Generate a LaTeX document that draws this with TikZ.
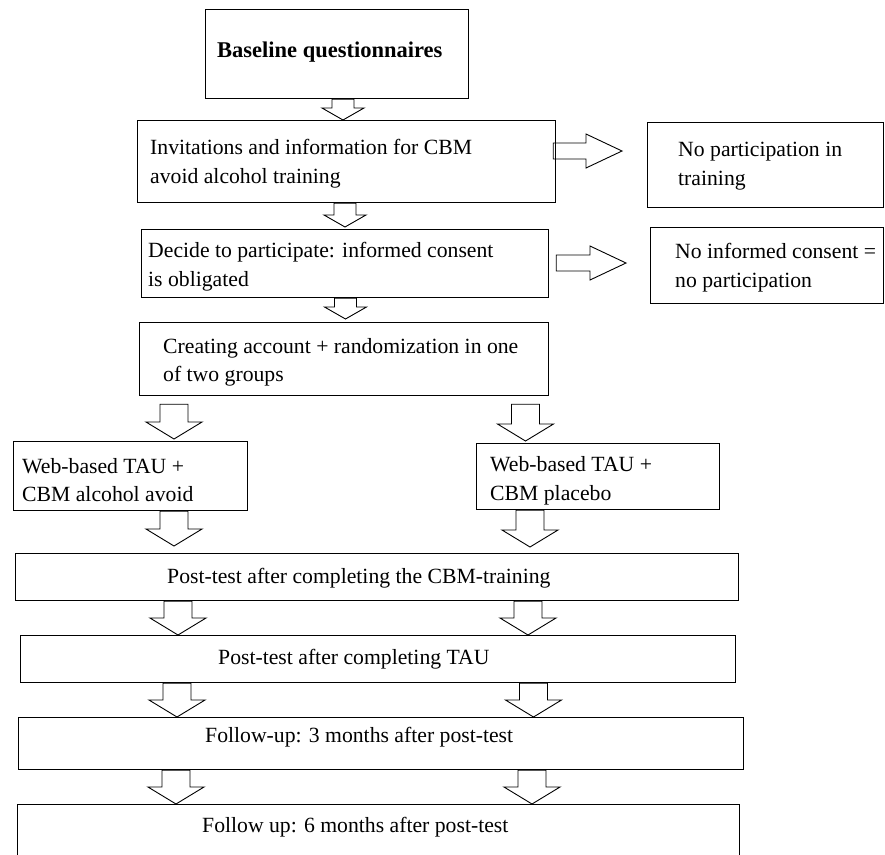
\documentclass[tikz,border=0pt]{standalone}
\usepackage{fontspec}
\setmainfont{Liberation Serif}
\usetikzlibrary{calc}
\tikzset{flowpx/.style={x=1pt,y=-1pt,font=\fontsize{21.7pt}{28.5pt}\selectfont}}
\tikzset{stepbox/.style={draw=black,line width=1.2pt,anchor=north west,inner sep=0pt},
         steptext/.style={anchor=west,align=left,inner sep=0pt},
         blockarr/.style={draw=black,line width=0.9pt}}
% hollow arrow downwards: x, from, to, gap at top, gap at tip
\newcommand{\downblock}[5]{%
  \draw[blockarr] let \p1=(#1,0 |- #2.south), \p2=(#1,0 |- #3.north) in
    (\x1-\shaftw,\y1-#4) -- (\x1-\shaftw,\y2+#5+\headl) -- (\x1-\headw,\y2+#5+\headl)
    -- (\x1,\y2+#5) -- (\x1+\headw,\y2+#5+\headl) -- (\x1+\shaftw,\y2+#5+\headl)
    -- (\x1+\shaftw,\y1-#4) -- cycle;}
% hollow arrow to the right: y, from, to, start offset, gap at tip
\newcommand{\rightblock}[5]{%
  \draw[blockarr] let \p1=(#2.east |- 0,#1), \p2=(#3.west |- 0,#1) in
    (\x1+#4,\y1+\shaftw) -- (\x2-#5-\headl,\y1+\shaftw) -- (\x2-#5-\headl,\y1+\headw)
    -- (\x2-#5,\y1) -- (\x2-#5-\headl,\y1-\headw) -- (\x2-#5-\headl,\y1-\shaftw)
    -- (\x1+#4,\y1-\shaftw) -- cycle;}

\begin{document}
\begin{tikzpicture}[flowpx]
    \useasboundingbox (0,0) rectangle (885,854);
    \clip (0,0) rectangle (885,854);
    % boxes
    \node[stepbox,minimum width=263pt,minimum height=89pt] (base)   at (205,9)   {};
    \node[stepbox,minimum width=418pt,minimum height=82pt] (invite) at (137,120) {};
    \node[stepbox,minimum width=236pt,minimum height=85pt] (nopart) at (647,122) {};
    \node[stepbox,minimum width=407pt,minimum height=68pt] (decide) at (141,229) {};
    \node[stepbox,minimum width=233pt,minimum height=76pt] (nocons) at (650,227) {};
    \node[stepbox,minimum width=409pt,minimum height=73pt] (create) at (139,322) {};
    \node[stepbox,minimum width=234pt,minimum height=69pt] (webcbm) at (13,441)  {};
    \node[stepbox,minimum width=243pt,minimum height=66pt] (webpla) at (476,443) {};
    \node[stepbox,minimum width=723pt,minimum height=47pt] (post1)  at (15,553)  {};
    \node[stepbox,minimum width=715pt,minimum height=47pt] (post2)  at (20,635)  {};
    \node[stepbox,minimum width=725pt,minimum height=52pt] (fu3)    at (18,717)  {};
    \node[stepbox,minimum width=722pt,minimum height=80pt] (fu6)    at (17,804)  {}; % cut off by the page
    % texts
    \node[steptext,font=\bfseries\fontsize{22.5pt}{28.5pt}\selectfont] (basetxt)
        at ([xshift=12pt,yshift=2pt]base.west) {Baseline questionnaires};
    \node[steptext] (invitetxt) at ([xshift=13pt,yshift=-2pt]invite.west)
        {Invitations and information for CBM\\avoid alcohol training};
    \node[steptext] (noparttxt) at ([xshift=31pt,yshift=-1pt]nopart.west)
        {No participation in\\training};
    \node[steptext] (decidetxt) at ([xshift=7pt,yshift=-3pt]decide.west)
        {Decide to participate: informed consent\\is obligated};
    \node[steptext] (noconstxt) at ([xshift=25pt,yshift=-2pt]nocons.west)
        {No informed consent =\\no participation};
    \node[steptext] (createtxt) at ([xshift=24pt,yshift=-3pt]create.west)
        {Creating account + randomization in one\\of two groups};
    \node[steptext] (webcbmtxt) at ([xshift=9pt,yshift=-4pt]webcbm.west)
        {Web-based TAU +\\CBM alcohol avoid};
    \node[steptext] (webplatxt) at ([xshift=14pt,yshift=-4pt]webpla.west)
        {Web-based TAU +\\CBM placebo};
    \node[steptext] (post1txt) at ([xshift=152pt,yshift=-1pt]post1.west)
        {Post-test after completing the CBM-training};
    \node[steptext] (post2txt) at ([xshift=198pt]post2.west)
        {Post-test after completing TAU};
    \node[steptext] (fu3txt) at ([xshift=187pt,yshift=6pt]fu3.west)
        {Follow-up: 3 months after post-test};
    \node[steptext] (fu6txt) at ([xshift=185pt,yshift=-23pt]fu6.north west)
        {Follow up: 6 months after post-test};
    % arrows, upper part
    \def\shaftw{11pt}\def\headw{21pt}\def\headl{12pt}
    \downblock{343}{base}{invite}{0pt}{0pt}
    \downblock{345}{invite}{decide}{0pt}{2pt}
    \downblock{345.5}{decide}{create}{0pt}{3pt}
    \def\shaftw{8pt}\def\headw{17pt}\def\headl{36pt}
    \rightblock{151}{invite}{nopart}{-3pt}{25pt}
    \rightblock{263}{decide}{nocons}{7pt}{24pt}
    % arrows, two groups
    \def\shaftw{14pt}\def\headw{28pt}\def\headl{17pt}
    \downblock{174}{create}{webcbm}{8pt}{2pt}
    \downblock{525.5}{create}{webpla}{8pt}{2pt}
    \downblock{174}{webcbm}{post1}{0pt}{7pt}
    \downblock{530}{webpla}{post1}{0pt}{6pt}
    \downblock{178}{post1}{post2}{0pt}{0pt}
    \downblock{528}{post1}{post2}{0pt}{0pt}
    \downblock{177}{post2}{fu3}{0pt}{0pt}
    \downblock{533.5}{post2}{fu3}{0pt}{0pt}
    \downblock{176}{fu3}{fu6}{0pt}{0pt}
    \downblock{532}{fu3}{fu6}{0pt}{0pt}
\end{tikzpicture}
\end{document}
